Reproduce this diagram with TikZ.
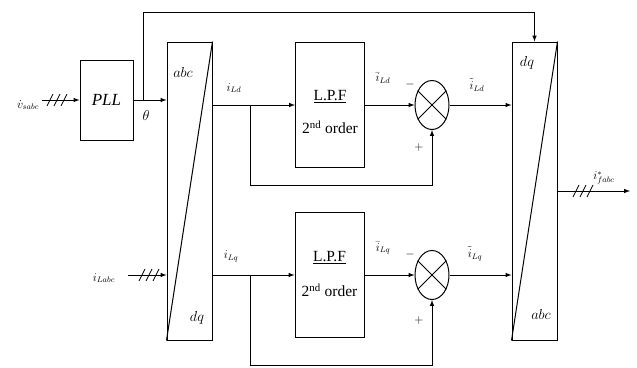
\documentclass[tikz,border=0pt]{standalone}
\usepackage{fontspec}
\setmainfont{Liberation Serif}
\usepackage{amsmath}
\usetikzlibrary{shapes,arrows,positioning}

\begin{document}
\begin{tikzpicture}[
    x=1pt, y=-1pt,
    font=\fontsize{11.5}{13}\selectfont,
    line width=1pt, >=latex,
    block/.style={rectangle, draw, inner sep=0pt},
    trans/.style={rectangle, draw, minimum width=45pt, minimum height=298pt, inner sep=0pt},
    lpfbox/.style={rectangle, draw, minimum width=69pt, minimum height=125pt, inner sep=0pt},
    mixer/.style={ellipse, draw, minimum width=34pt, minimum height=49pt, inner sep=0pt},
    lbl/.style={inner sep=0.5pt},
    big/.style={inner sep=0.5pt, font=\fontsize{15.5}{18}\selectfont},
    axis/.style={inner sep=0.5pt, font=\fontsize{13.5}{15}\selectfont}
]
\useasboundingbox (0,0) rectangle (637,367);

% Blocks
\node[block, minimum width=53pt, minimum height=80pt, font=\fontsize{17}{19}\selectfont] (pll) at (106.5,100) {\textit{PLL}};
\node[trans] (abcdq) at (189.5,191) {};
\node[trans] (dqabc) at (534.5,191) {};
\node[lpfbox] (lpfd) at (330,104.5) {};
\node[lpfbox] (lpfq) at (329.5,275) {};
\node[mixer] (sumd) at (432,105) {};
\node[mixer] (sumq) at (432,275) {};

% Transform diagonals and labels
\draw (abcdq.south west) -- (abcdq.north east);
\draw (dqabc.south west) -- (dqabc.north east);
\node[axis] at (183,72) {$abc$};
\node[axis] at (197,318) {$dq$};
\node[axis] at (527,63) {$dq$};
\node[axis] at (541,314) {$abc$};

% Filter texts
\node[big] at (lpfd.center) [yshift=8pt] {\underline{L.P.F}};
\node[big] at (lpfd.center) [yshift=-23pt] {2\textsuperscript{nd} order};
\node[big] at (lpfq.center) [yshift=17pt] {\underline{L.P.F}};
\node[big] at (lpfq.center) [yshift=-15pt] {2\textsuperscript{nd} order};

% Mixer crosses
\foreach \s in {sumd,sumq} {
    \draw (\s.45) -- (\s.225);
    \draw (\s.135) -- (\s.315);
}

% Inputs
\coordinate (vin) at (42,100);
\coordinate (iin) at (128,275);
\draw[->] (vin) -- (pll.west);
\draw[->] (iin) -- (iin -| abcdq.west);
\node[lbl, anchor=east] at (vin) [xshift=-2pt,yshift=-5pt] {$\dot{v}_{sabc}$};
\node[lbl, anchor=east] at (iin) [xshift=-12pt,yshift=-3pt] {$i_{Labc}$};
\foreach \x in {50,57,64} \draw[line width=0.7pt] (\x-3,106) -- (\x+3,94);
\foreach \x in {142,149,156} \draw[line width=0.7pt] (\x-3,281) -- (\x+3,269);

% Angle path
\coordinate (thtap) at (143,100);
\coordinate (topline) at (143,12);
\draw[->] (pll.east) -- (pll.east -| abcdq.west);
\draw[->] (thtap) -- (topline) -| (dqabc.north);
\node[axis] at (146,115) {$\theta$};

% d axis
\coordinate (dtap) at (250,105);
\draw[->] (abcdq.east |- dtap) -- (dtap -| lpfd.west);
\draw[->] (dtap -| lpfd.east) -- (sumd.west);
\draw[->] (dtap) -- ++(0,80) -| (sumd.south);
\draw[->] (sumd.east) -- (sumd.east -| dqabc.west);
\node[lbl] at (234,88) {$i_{Ld}$};
\node[lbl] at (383,78) {$\bar{i}_{Ld}$};
\node[lbl] at (477,85) {$\tilde{i}_{Ld}$};
\node[lbl] at (410,84) {$-$};
\node[lbl] at (419,147) {$+$};

% q axis
\coordinate (qtap) at (250,275);
\draw[->] (abcdq.east |- qtap) -- (qtap -| lpfq.west);
\draw[->] (qtap -| lpfq.east) -- (sumq.west);
\draw[->] (qtap) -- ++(0,90) -| (sumq.south);
\draw[->] (sumq.east) -- (sumq.east -| dqabc.west);
\node[lbl] at (231,256) {$i_{Lq}$};
\node[lbl] at (383,248) {$\bar{i}_{Lq}$};
\node[lbl] at (475,254) {$\tilde{i}_{Lq}$};
\node[lbl] at (410,254) {$-$};
\node[lbl] at (419,320) {$+$};

% Output
\coordinate (fout) at (630,191);
\draw[->] (dqabc.east) -- (fout);
\foreach \x in {576,583,590} \draw[line width=0.7pt] (\x-3,197) -- (\x+3,185);
\node[lbl] at (604,178) {$i^{*}_{fabc}$};

\end{tikzpicture}
\end{document}
